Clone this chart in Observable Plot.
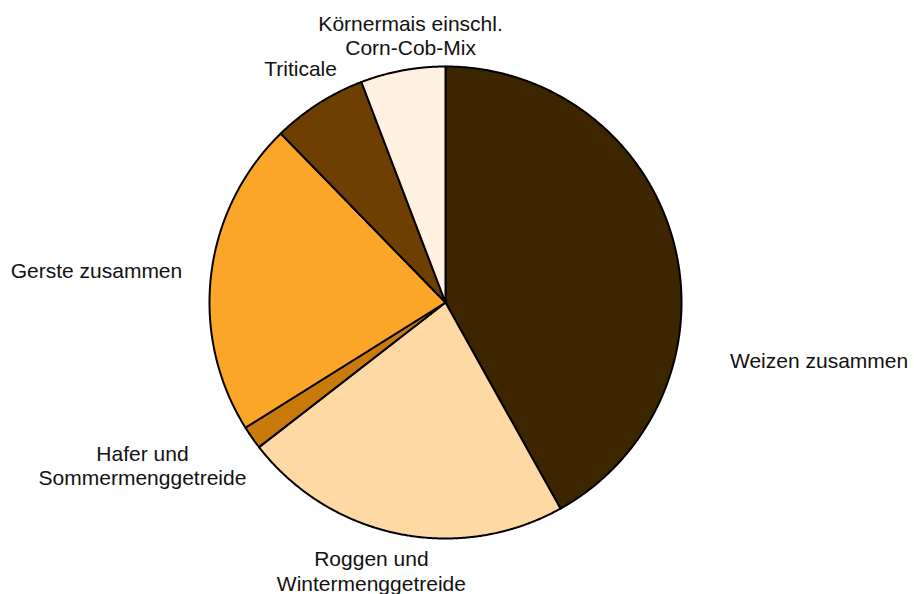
<!DOCTYPE html>
<html><head><meta charset="utf-8">
<script src="https://cdn.jsdelivr.net/npm/d3@7"></script>
<script src="https://cdn.jsdelivr.net/npm/@observablehq/plot@0.6"></script>
<style>html,body{margin:0;padding:0;background:#fff;}</style>
</head><body><div id="chart"></div>
<script>
// Data (clockwise from 12 o'clock), shares in percent
const categories = [
  "Weizen zusammen",
  "Roggen und\nWintermenggetreide",
  "Hafer und\nSommermenggetreide",
  "Gerste zusammen",
  "Triticale",
  "Körnermais einschl.\nCorn-Cob-Mix"
];
const shares = [41.9, 22.6, 1.6, 21.6, 6.5, 5.8];
const colors = ["#3d2500", "#fed9a4", "#c97a0a", "#fca629", "#6e3f00", "#fff1df"];
// Label placement (layout, in units of the pie radius)
const labelXY = [[1.583,-0.246],[-0.314,-1.136],[-1.284,-0.689],[-1.479,0.136],[-0.614,0.992],[-0.148,1.133]];

const slices = categories.map((c, i) => ({category: c, value: shares[i]}));
const arcs = d3.pie().sort(null).value(d => d.value)(slices);
const pts = [];
arcs.forEach(a => {
  const c = a.data.category;
  pts.push({category: c, x: 0, y: 0});
  const n = Math.max(2, Math.ceil((a.endAngle - a.startAngle) / 0.005));
  for (let k = 0; k <= n; k++) {
    const t = a.startAngle + (a.endAngle - a.startAngle) * k / n;
    pts.push({category: c, x: Math.sin(t), y: Math.cos(t)});
  }
  pts.push({category: c, x: 0, y: 0});
});
const labels = categories.map((c, i) => ({text: c, x: labelXY[i][0], y: labelXY[i][1]}));

const chart = Plot.plot({
  width: 914, height: 594,
  marginLeft: 209, marginRight: 233, marginTop: 66, marginBottom: 56,
  x: {domain: [-1, 1], axis: null},
  y: {domain: [-1, 1], axis: null},
  color: {domain: categories, range: colors},
  style: {fontFamily: "'Liberation Sans', Arial, sans-serif", background: "#fff"},
  marks: [
    Plot.line(pts, {x: "x", y: "y", z: "category", fill: "category", stroke: "#000", strokeWidth: 2, strokeLinejoin: "round"}),
    Plot.text(labels, {x: "x", y: "y", text: "text", fontSize: 21, lineHeight: 1.17, fill: "#111", textAnchor: "middle"})
  ]
});
document.getElementById("chart").appendChild(chart);
</script>
</body></html>
